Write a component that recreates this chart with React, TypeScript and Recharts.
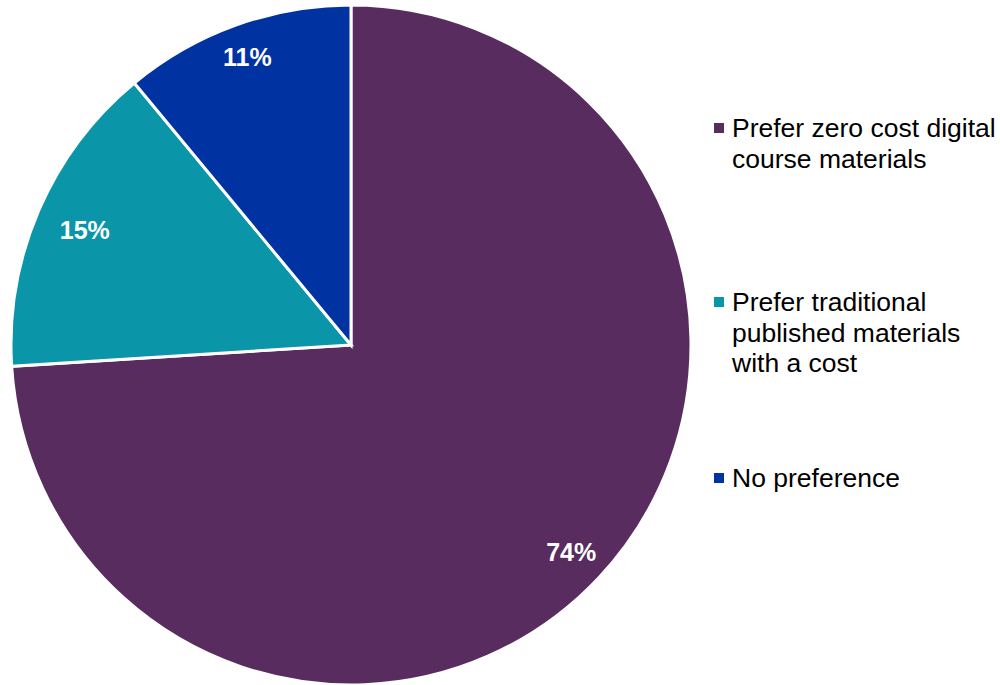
import React from 'react'
import { PieChart, Pie, Cell, Legend } from 'recharts'

// ─── Data ─────────────────────────────────────────────────────────────────────
const categories = [
  'Prefer zero cost digital course materials',
  'Prefer traditional published materials with a cost',
  'No preference',
]
const shares = [74, 15, 11]
const legendLines = [
  ['Prefer zero cost digital', 'course materials'],
  ['Prefer traditional', 'published materials', 'with a cost'],
  ['No preference'],
]
const colors = ['#582C5E', '#0A96A8', '#0033A1']

const data = categories.map((name, i) => ({ name, value: shares[i] }))

const FONT = '"Liberation Sans", Arial, sans-serif'
const RAD = Math.PI / 180
// distance of each label from the centre (PowerPoint "best fit" isn't uniform)
const labelRadius = [302, 290, 306]

// ─── Slice labels ─────────────────────────────────────────────────────────────
function SliceLabel(props: any) {
  const { cx, cy, midAngle, value, index } = props
  const r = labelRadius[index] ?? 300
  const x = cx + r * Math.cos(-midAngle * RAD)
  const y = cy + r * Math.sin(-midAngle * RAD)
  return (
    <text x={x} y={y} fill="#fff" textAnchor="middle" dominantBaseline="central"
      style={{ fontFamily: FONT, fontSize: 25, fontWeight: 700 }}>
      {`${value}%`}
    </text>
  )
}

// ─── Legend ───────────────────────────────────────────────────────────────────
const itemTops = [113, 287, 463]

function LegendContent() {
  return (
    <div style={{ position: 'relative', width: 290, height: 685 }}>
      {legendLines.map((lines, i) => (
        <div key={i} style={{ position: 'absolute', left: 0, top: itemTops[i] }}>
          <div style={{ position: 'absolute', left: 2, top: 10, width: 10, height: 10, background: colors[i] }} />
          <div style={{ marginLeft: 20, fontFamily: FONT, fontSize: 26.5, lineHeight: '30.5px', color: '#000', whiteSpace: 'nowrap' }}>
            {lines.map((l, j) => <div key={j}>{l}</div>)}
          </div>
        </div>
      ))}
    </div>
  )
}

export default function App() {
  return (
    <div style={{ position: 'absolute', left: 0, top: 0, width: 1000, height: 685, background: '#fff' }}>
      <PieChart width={1000} height={685} margin={{ top: 0, right: 0, bottom: 0, left: 0 }}>
        <Pie
          data={data}
          dataKey="value"
          cx={351}
          cy={345}
          outerRadius={340}
          startAngle={90}
          endAngle={-270}
          stroke="#fff"
          strokeWidth={3}
          label={SliceLabel}
          labelLine={false}
          isAnimationActive={false}
        >
          {data.map((_, i) => <Cell key={i} fill={colors[i]} />)}
        </Pie>
        <Legend
          content={<LegendContent />}
          wrapperStyle={{ position: 'absolute', left: 712, top: 0, width: 290, height: 685 }}
        />
      </PieChart>
    </div>
  )
}
